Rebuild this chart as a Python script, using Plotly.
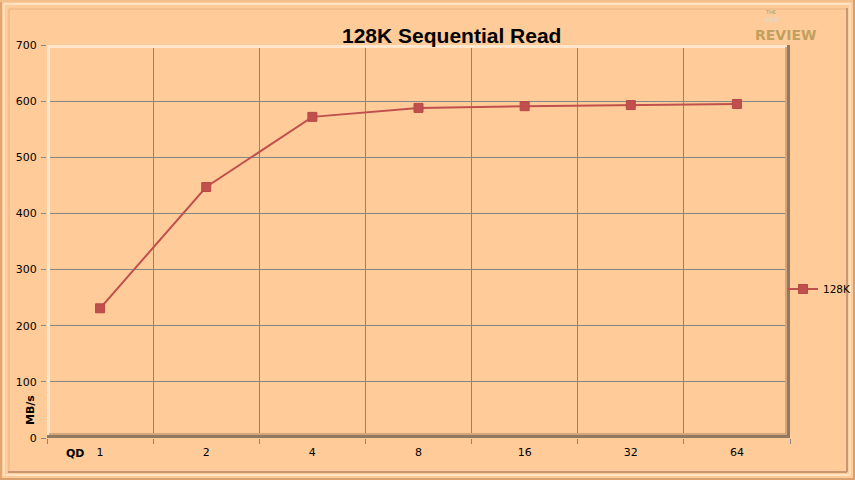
import plotly.graph_objects as go

qd_labels = ["1", "2", "4", "8", "16", "32", "64"]
read_mbps = [231, 447, 572, 588, 591, 593, 595]
y_ticks = [0, 100, 200, 300, 400, 500, 600, 700]
series_name = "128K"
title_text = "128K Sequential Read"

W, H = 855, 480
L, R, T, B = 47, 790, 45, 438

def px(x):
    return (x - L) / (R - L)

def py(y):
    return (B - y) / (B - T)

fig = go.Figure()
fig.add_trace(go.Scatter(
    x=qd_labels, y=read_mbps, name=series_name, mode="lines+markers",
    line=dict(color="#C0504D", width=2),
    marker=dict(symbol="square", size=9, color="#C0504D",
                line=dict(color="#B84845", width=1)),
))

shapes = []
def line(x0, y0, x1, y1, color, width):
    shapes.append(dict(type="line", xref="paper", yref="paper",
                       x0=px(x0), y0=py(y0), x1=px(x1), y1=py(y1),
                       line=dict(color=color, width=width), layer="above"))

# outer frame bevel
line(1, 0, 1, 480, "#E0A572", 2)
line(0, 1, 855, 1, "#F2C08C", 2)
line(854, 0, 854, 480, "#D9A06E", 2)
line(0, 479, 855, 479, "#D9A06E", 2)
line(4, 4, 851, 4, "#FFE2C2", 2)
line(4, 4, 4, 476, "#FFE2C2", 2)
line(9, 9, 846, 9, "#E8B27E", 1)
line(9, 9, 9, 471, "#E8B27E", 1)
line(847, 8, 847, 472, "#C89670", 2)
line(8, 472, 847, 472, "#C89670", 2)
line(850, 6, 850, 475, "#FFE2C2", 2)
line(6, 475, 850, 475, "#FFE2C2", 2)

# plot area bevel
line(L + 2, T + 1.5, R - 2, T + 1.5, "#FFE6CC", 3)
line(L + 1.5, T, L + 1.5, B - 2, "#FFE6CC", 3)
line(R - 4, T + 2, R - 4, B - 3, "#D8A47A", 2)
line(L + 2, B - 4, R - 3, B - 4, "#D8A47A", 2)
line(R - 1.5, T, R - 1.5, B, "#8E7A62", 3)
line(L, B - 1.5, R, B - 1.5, "#8E7A62", 3)

annotations = [
    dict(text="<b>" + title_text + "</b>", x=px(451), y=py(35), xref="paper", yref="paper",
         showarrow=False, font=dict(family="Liberation Sans Narrow, Arial Narrow, Liberation Sans",
                                    size=21, color="#000000"), xanchor="center", yanchor="middle"),
    dict(text="<b>QD</b>", x=px(75), y=py(453), xref="paper", yref="paper", showarrow=False,
         font=dict(family="DejaVu Sans", size=11, color="#000"), xanchor="center", yanchor="middle"),
    dict(text="<b>MB/s</b>", x=px(30), y=py(410), xref="paper", yref="paper", showarrow=False,
         textangle=-90, font=dict(family="DejaVu Sans", size=11, color="#000"),
         xanchor="center", yanchor="middle"),
    dict(text="THE", x=px(770), y=py(12), xref="paper", yref="paper", showarrow=False,
         font=dict(family="DejaVu Sans", size=5, color="#A89878"), xanchor="center", yanchor="middle"),
    dict(text="<b><i>SSD</i></b>", x=px(772), y=py(20), xref="paper", yref="paper", showarrow=False,
         font=dict(family="DejaVu Sans", size=7, color="#E6D6C0"), xanchor="center", yanchor="middle"),
    dict(text="<b>REVIEW</b>", x=px(785), y=py(35), xref="paper", yref="paper", showarrow=False,
         font=dict(family="DejaVu Sans", size=14, color="#C0A060"), xanchor="center", yanchor="middle"),
]

fig.update_layout(
    width=W, height=H,
    margin=dict(l=L, r=W - R, t=T, b=H - B, pad=0, autoexpand=False),
    paper_bgcolor="#FFCC99", plot_bgcolor="#FFCC99",
    showlegend=True,
    legend=dict(x=px(783), y=py(289), xanchor="left", yanchor="middle",
                bgcolor="rgba(0,0,0,0)", font=dict(family="DejaVu Sans", size=10.5, color="#000"),
                itemwidth=30, tracegroupgap=0),
    xaxis=dict(type="category", tickson="boundaries", showgrid=True, gridcolor="#868686",
               gridwidth=1, ticks="outside", ticklen=5, tickcolor="#868686",
               showline=False, zeroline=False, ticklabelstandoff=6,
               tickfont=dict(family="DejaVu Sans", size=11, color="#000"),
               range=[-0.5, 6.5]),
    yaxis=dict(range=[0, 700], tickvals=y_ticks, showgrid=True, gridcolor="#868686",
               gridwidth=1, ticks="outside", ticklen=5, tickcolor="#868686",
               showline=False, zeroline=False, ticklabelstandoff=2,
               tickfont=dict(family="DejaVu Sans", size=11, color="#000")),
    shapes=shapes, annotations=annotations,
)

fig.write_html("out.html", config={"displayModeBar": False},
               post_script="document.body.style.margin='0';document.body.style.overflow='hidden';")
